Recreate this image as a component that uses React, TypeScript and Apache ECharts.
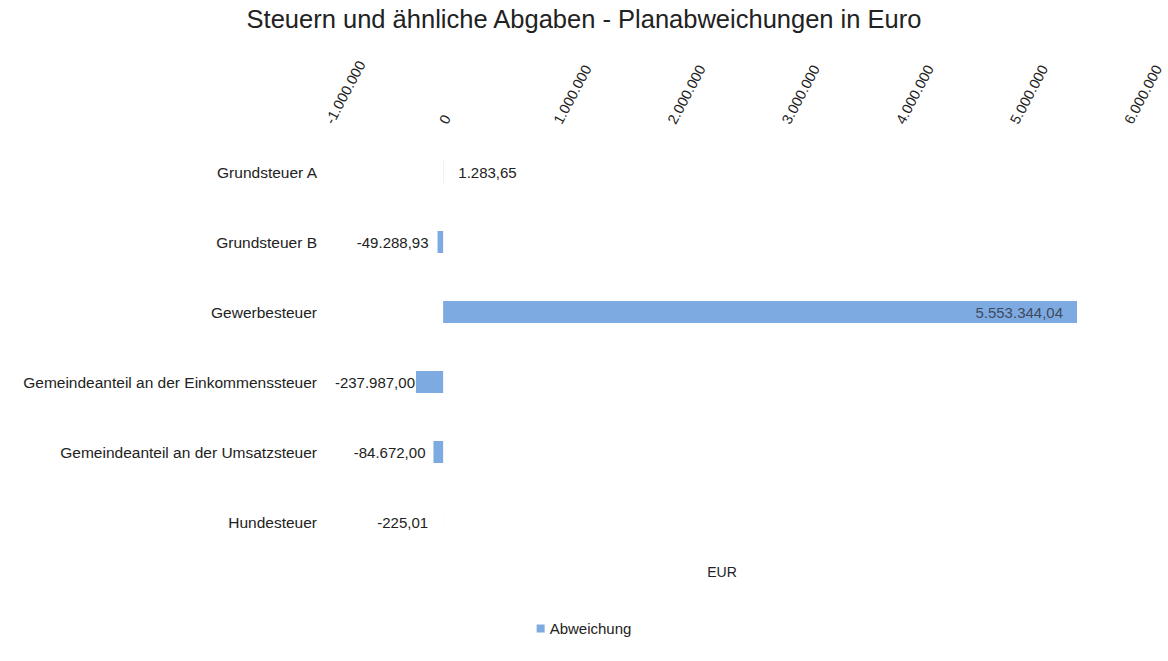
import React, { useEffect, useRef } from "react";
import * as echarts from "echarts";

const categories = [
  "Grundsteuer A",
  "Grundsteuer B",
  "Gewerbesteuer",
  "Gemeindeanteil an der Einkommenssteuer",
  "Gemeindeanteil an der Umsatzsteuer",
  "Hundesteuer",
];
const values = [1283.65, -49288.93, 5553344.04, -237987.0, -84672.0, -225.01];
const labelGaps = [15, 9, 14, 1, 8, 15];
const axisMin = -1000000;
const axisMax = 6000000;
const axisStep = 1000000;

function fmtDE(v: number, decimals: number): string {
  const neg = v < 0;
  const abs = Math.abs(v);
  const fixed = abs.toFixed(decimals);
  const [intPart, decPart] = fixed.split(".");
  const withSep = intPart.replace(/\B(?=(\d{3})+(?!\d))/g, ".");
  return (neg ? "-" : "") + withSep + (decPart ? "," + decPart : "");
}

export default function App() {
  const ref = useRef<HTMLDivElement>(null);
  useEffect(() => {
    if (!ref.current) return;
    const chart = echarts.init(ref.current, null, { renderer: "svg" });
    const color = "#7eaae2";
    const font = "Liberation Sans, Arial, sans-serif";
    chart.setOption({
      animation: false,
      textStyle: { fontFamily: font },
      title: {
        text: "Steuern und ähnliche Abgaben - Planabweichungen in Euro",
        left: "center",
        top: 1,
        textStyle: { fontSize: 25.5, fontWeight: "normal", color: "#222", fontFamily: font },
      },
      legend: {
        bottom: 20,
        left: "center",
        itemWidth: 8,
        itemHeight: 8,
        itemGap: 2,
        icon: "rect",
        textStyle: { fontSize: 15, color: "#222", fontFamily: font },
        data: ["Abweichung"],
      },
      grid: { left: 329, right: 40, top: 137, bottom: 104, containLabel: false },
      xAxis: {
        type: "value",
        position: "top",
        min: axisMin,
        max: axisMax,
        interval: axisStep,
        axisLine: { show: false },
        axisTick: { show: false },
        splitLine: { show: false },
        axisLabel: {
          rotate: -62,
          margin: 14,
          fontSize: 14.5,
          color: "#222",
          fontFamily: font,
          formatter: (v: number) => fmtDE(v, 0),
        },
      },
      yAxis: {
        type: "category",
        inverse: true,
        data: categories,
        axisLine: { show: false },
        axisTick: { show: false },
        splitLine: { show: false },
        axisLabel: { fontSize: 15.5, color: "#222", margin: 12, fontFamily: font },
      },
      graphic: [
        {
          type: "text",
          x: 722,
          y: 572,
          style: {
            text: "EUR",
            fontSize: 14,
            fill: "#222",
            fontFamily: font,
            textAlign: "center",
            textVerticalAlign: "middle",
          },
        },
      ],
      series: [
        {
          name: "Abweichung",
          type: "bar",
          barWidth: 22,
          itemStyle: { color },
          data: values.map((v, i) => ({
            value: v,
            label: {
              show: true,
              position: v > 1000000 ? "insideRight" : v >= 0 ? "right" : "left",
              distance: labelGaps[i],
              fontSize: 15,
              color: v > 1000000 ? "#3f4b5e" : "#222",
              fontFamily: font,
              formatter: () => fmtDE(v, 2),
            },
          })),
        },
      ],
    });
    return () => chart.dispose();
  }, []);
  return (
    <div
      ref={ref}
      style={{ position: "absolute", left: 0, top: 0, width: 1168, height: 661 }}
    />
  );
}
